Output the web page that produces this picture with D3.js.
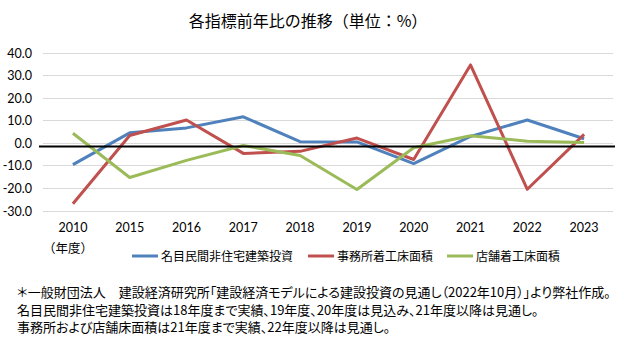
<!DOCTYPE html>
<html>
<head>
<meta charset="utf-8">
<script src="https://cdn.jsdelivr.net/npm/d3@7"></script>
<style>
  html, body { margin: 0; padding: 0; background: #fff; }
  svg { display: block; }
  .jp { font-family: "Noto Sans CJK JP", sans-serif; }
  .num { font-family: Lato, "Open Sans", sans-serif; }
</style>
</head>
<body>
<svg id="chart" width="624" height="346"></svg>
<script>
// Fiscal years on the category axis
const years = ["2010", "2015", "2016", "2017", "2018", "2019", "2020", "2021", "2022", "2023"];

// Year-on-year change (%) for each indicator
const nonResidentialInvestment = [-9.7, 4.4, 6.6, 11.5, 0.5, 0.4, -9.2, 2.8, 10.1, 1.8];
const officeFloorArea = [-27.0, 3.2, 10.1, -4.7, -3.8, 2.1, -7.4, 34.5, -20.6, 3.7];
const storeFloorArea = [4.2, -15.4, -7.8, -1.2, -5.6, -20.7, -2.2, 3.1, 0.7, 0.1];

const seriesNames = ["名目民間非住宅建築投資", "事務所着工床面積", "店舗着工床面積"];
const seriesColors = ["#4F81BD", "#C0504D", "#9BBB59"];

// Y-axis ticks
const yTicks = [-30, -20, -10, 0, 10, 20, 30, 40];

// Black reference line level
const referenceLevel = -1.7;

const titleText = "各指標前年比の推移（単位：%）";
const axisUnitText = "（年度）";
const notes = [
  "＊一般財団法人　建設経済研究所「建設経済モデルによる建設投資の見通し（2022年10月）」より弊社作成。",
  "名目民間非住宅建築投資は18年度まで実績、19年度、20年度は見込み、21年度以降は見通し。",
  "事務所および店舗床面積は21年度まで実績、22年度以降は見通し。"
];

const svg = d3.select("#chart");

const x = d3.scaleBand().domain(years).range([44.5, 612.5]);
const y = d3.scaleLinear().domain([-30, 40]).range([210.5, 52.5]);

// Title
svg.append("text")
  .attr("class", "jp")
  .attr("x", 308).attr("y", 27)
  .attr("text-anchor", "middle")
  .attr("font-size", 16)
  .attr("fill", "#000")
  .text(titleText);

// Horizontal gridlines
svg.append("g")
  .selectAll("line")
  .data(yTicks)
  .join("line")
  .attr("x1", 43).attr("x2", 613)
  .attr("y1", d => Math.round(y(d)) + 0.5)
  .attr("y2", d => Math.round(y(d)) + 0.5)
  .attr("stroke", "#D9D9D9")
  .attr("stroke-width", 1);

// Y axis labels
const yAxis = d3.axisLeft(y).tickValues(yTicks).tickSize(0).tickPadding(0);
const yg = svg.append("g").attr("transform", "translate(32,0)").call(yAxis);
yg.select(".domain").remove();
yg.selectAll("text")
  .attr("class", "num")
  .attr("font-size", 12.5)
  .attr("fill", "#000")
  .attr("dy", "0.36em")
  .text(d => d < 0 ? "-" + d3.format(".1f")(-d) : d3.format(".1f")(d));

// X axis labels
const xAxis = d3.axisBottom(x).tickSize(0).tickPadding(0);
const xg = svg.append("g").attr("transform", "translate(0,223)").call(xAxis);
xg.select(".domain").remove();
xg.selectAll("text")
  .attr("class", "num")
  .attr("font-size", 12.5)
  .attr("fill", "#000")
  .attr("dy", "0.71em");

svg.append("text")
  .attr("class", "jp")
  .attr("x", 43).attr("y", 253)
  .attr("font-size", 12.5)
  .attr("fill", "#000")
  .text(axisUnitText);

// Series lines
const seriesValues = [nonResidentialInvestment, officeFloorArea, storeFloorArea];
const line = d3.line()
  .x((d, i) => x(years[i]) + x.bandwidth() / 2)
  .y(d => y(d));

svg.append("g")
  .selectAll("path")
  .data(seriesValues)
  .join("path")
  .attr("d", d => line(d))
  .attr("fill", "none")
  .attr("stroke", (d, i) => seriesColors[i])
  .attr("stroke-width", 3)
  .attr("stroke-linejoin", "round");

// Reference line
svg.append("line")
  .attr("x1", 39).attr("x2", 615)
  .attr("y1", y(referenceLevel)).attr("y2", y(referenceLevel))
  .attr("stroke", "#000")
  .attr("stroke-width", 2);

// Legend
const legendX = [132, 308, 447];
const legend = svg.append("g")
  .selectAll("g")
  .data(seriesNames)
  .join("g")
  .attr("transform", (d, i) => `translate(${legendX[i]},256)`);
legend.append("line")
  .attr("x1", 0).attr("x2", 26)
  .attr("stroke", (d, i) => seriesColors[i])
  .attr("stroke-width", 3);
legend.append("text")
  .attr("class", "jp")
  .attr("x", 29).attr("dy", "0.38em")
  .attr("font-size", 12)
  .attr("fill", "#000")
  .text(d => d);

// Notes
svg.append("g")
  .selectAll("text")
  .data(notes)
  .join("text")
  .attr("class", "jp")
  .attr("x", 17)
  .attr("y", (d, i) => 297 + i * 17.5)
  .attr("font-size", 13)
  .attr("fill", "#000")
  .style("font-feature-settings", "'palt'")
  .text(d => d);
</script>
</body>
</html>
